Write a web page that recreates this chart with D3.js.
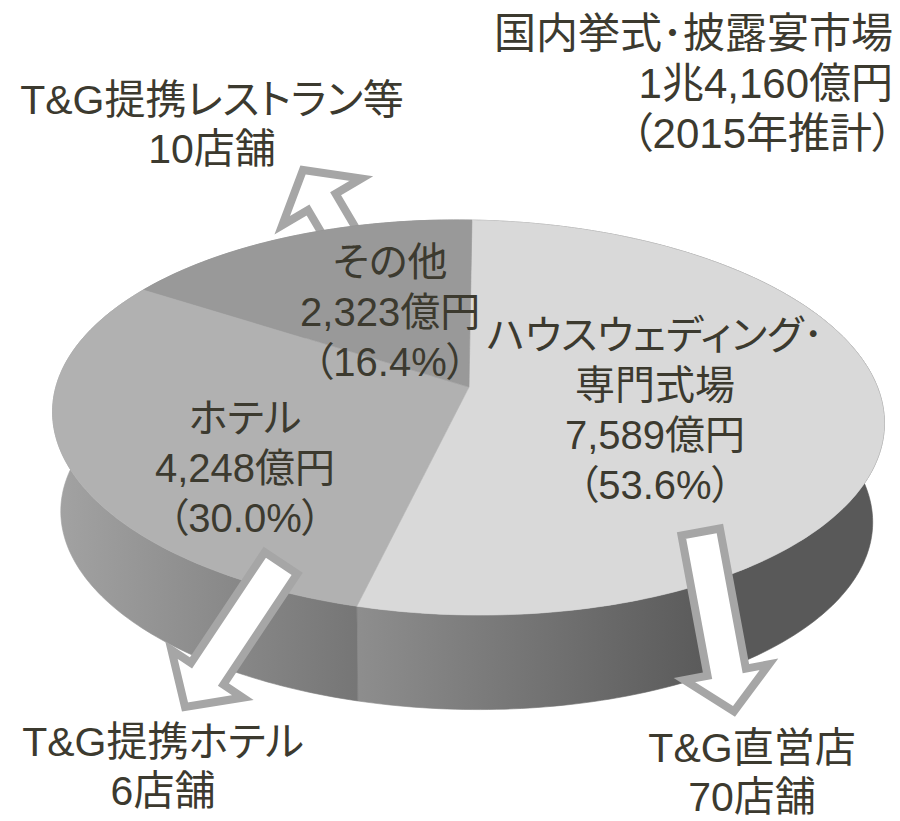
<!DOCTYPE html>
<html>
<head>
<meta charset="utf-8">
<script src="https://cdn.jsdelivr.net/npm/d3@7"></script>
<style>
  body { margin: 0; background: #fff; }
  svg text {
    font-family: "Liberation Sans", "Noto Sans CJK JP", sans-serif;
    fill: #3c3a2f;
    font-feature-settings: "palt";
  }
</style>
</head>
<body>
<svg id="chart" width="900" height="821"></svg>
<script>
// 市場の内訳（億円）
const segmentNames = [["ハウスウェディング･", "専門式場"], ["ホテル"], ["その他"]];
const segmentValues = [7589, 4248, 2323];
const segmentShares = ["53.6%", "30.0%", "16.4%"];

// 市場全体
const titleLines = ["国内挙式･披露宴市場", "1兆4,160億円", "（2015年推計）"];

// T&Gの店舗数（直営店, 提携ホテル, 提携レストラン等）
const storeNames = ["T&G直営店", "T&G提携ホテル", "T&G提携レストラン等"];
const storeCounts = [70, 6, 10];

// farver til skiverne
const topColors = ["#d9d9d9", "#b1b1b1", "#999999"];
const sideColors = [["#8e8e8e", "#595959"], ["#a3a3a3", "#767676"], ["#8a8a8a", "#8a8a8a"]];

const w = 900, h = 821;
const svg = d3.select("#chart").attr("width", w).attr("height", h);
const defs = svg.append("defs");

// 3D-tærte: midtpunkt og perspektiv
const cx = 469, cy = 387;
const radiusPx = 411;      // vandret radius
const tilt = 0.469;        // sin af hældningen
const persp = 0.1544;      // hvor meget bagsiden skrumper
const depthPx = 100;       // tykkelse
const bottomScale = 0.976;

function project(theta, k, bottom) {
  const s = Math.sin(theta), c = Math.cos(theta);
  const d = 1 + persp * k * c;
  let x = radiusPx * k * s / d;
  let y = -radiusPx * tilt * k * c / d;
  if (bottom) {
    x = x * bottomScale;
    y = y * bottomScale + depthPx;
  }
  return [cx + x, cy + y];
}

function arcPoints(a0, a1, k, bottom) {
  const n = Math.max(2, Math.ceil(Math.abs(a1 - a0) / (Math.PI / 180)));
  return d3.range(n + 1).map(i => project(a0 + (a1 - a0) * i / n, k, bottom));
}

const pie = d3.pie().sort(null).value(d => d);
const arcs = pie(segmentValues);
const line = d3.line();

// pil fra "その他" ligger bag tærten
function arrowPoints(base, tip, sw, hw, hl) {
  const dx = tip[0] - base[0], dy = tip[1] - base[1];
  const L = Math.hypot(dx, dy);
  const ux = dx / L, uy = dy / L, nx = -uy, ny = ux;
  const neck = [tip[0] - ux * hl, tip[1] - uy * hl];
  return [
    [base[0] + nx * sw, base[1] + ny * sw],
    [neck[0] + nx * sw, neck[1] + ny * sw],
    [neck[0] + nx * hw, neck[1] + ny * hw],
    tip,
    [neck[0] - nx * hw, neck[1] - ny * hw],
    [neck[0] - nx * sw, neck[1] - ny * sw],
    [base[0] - nx * sw, base[1] - ny * sw]
  ];
}

const arrows = [
  { base: [700.7, 532], tip: [734, 711.5], sw: 19.5, hw: 43, hl: 40, behind: false },
  { base: [281, 563], tip: [185, 707], sw: 19.5, hw: 43, hl: 40, behind: false },
  { base: [352, 253], tip: [303, 170], sw: 16, hw: 46, hl: 37, behind: true }
];

function drawArrow(g, a) {
  g.append("path")
    .attr("d", line(arrowPoints(a.base, a.tip, a.sw, a.hw, a.hl)) + "Z")
    .attr("fill", "#ffffff")
    .attr("stroke", "#a6a6a6")
    .attr("stroke-width", 8)
    .attr("stroke-linejoin", "miter")
    .attr("stroke-miterlimit", 10);
}

arrows.filter(a => a.behind).forEach(a => drawArrow(svg, a));

const pieG = svg.append("g").attr("transform", `rotate(1, ${cx}, ${cy})`);

// sider (gradient vandret)
arcs.forEach((a, i) => {
  const gid = "side" + i;
  const grad = defs.append("linearGradient")
    .attr("id", gid)
    .attr("gradientUnits", "userSpaceOnUse")
    .attr("x1", i === 0 ? 360 : 55).attr("x2", i === 0 ? 720 : 360)
    .attr("y1", 0).attr("y2", 0);
  grad.append("stop").attr("offset", 0).attr("stop-color", sideColors[i][0]);
  grad.append("stop").attr("offset", 1).attr("stop-color", sideColors[i][1]);

  const topEdge = arcPoints(a.startAngle, a.endAngle, 1, false);
  const botEdge = arcPoints(a.startAngle, a.endAngle, 1, true).reverse();
  pieG.append("path")
    .attr("d", line(topEdge.concat(botEdge)) + "Z")
    .attr("fill", `url(#${gid})`)
    .attr("stroke", `url(#${gid})`)
    .attr("stroke-width", 0.6);
});

// top-flader
arcs.forEach((a, i) => {
  const pts = [project(0, 0, false)].concat(arcPoints(a.startAngle, a.endAngle, 1, false));
  pieG.append("path")
    .attr("d", line(pts) + "Z")
    .attr("fill", topColors[i])
    .attr("stroke", topColors[i])
    .attr("stroke-width", 0.6);
});

// labels på skiverne
const fmt = d3.format(",");
const labelNudge = [[-20, 12], [-29, 42], [16, 4]];
arcs.forEach((a, i) => {
  const mid = (a.startAngle + a.endAngle) / 2;
  const p = project(mid, 0.5, false);
  const lines = segmentNames[i].concat([fmt(segmentValues[i]) + "億円", "（" + segmentShares[i] + "）"]);
  const x = p[0] + labelNudge[i][0];
  const y0 = p[1] + labelNudge[i][1] - (lines.length - 1) * 50 / 2;
  lines.forEach((t, j) => {
    svg.append("text")
      .attr("x", x).attr("y", y0 + j * 50)
      .attr("text-anchor", "middle")
      .attr("dominant-baseline", "central")
      .style("font-size", "40px")
      .text(t);
  });
});

arrows.filter(a => !a.behind).forEach(a => drawArrow(svg, a));

// titel øverst til højre
titleLines.forEach((t, j) => {
  svg.append("text")
    .attr("x", 893).attr("y", 33 + j * 50)
    .attr("text-anchor", "end")
    .attr("dominant-baseline", "central")
    .style("font-size", "42px")
    .text(t);
});

// butikstekster
const storePos = [[752, 748], [163, 742], [212, 100]];
storeNames.forEach((name, i) => {
  [name, storeCounts[i] + "店舗"].forEach((t, j) => {
    svg.append("text")
      .attr("x", storePos[i][0]).attr("y", storePos[i][1] + j * 49)
      .attr("text-anchor", "middle")
      .attr("dominant-baseline", "central")
      .style("font-size", "41px")
      .text(t);
  });
});
</script>
</body>
</html>
